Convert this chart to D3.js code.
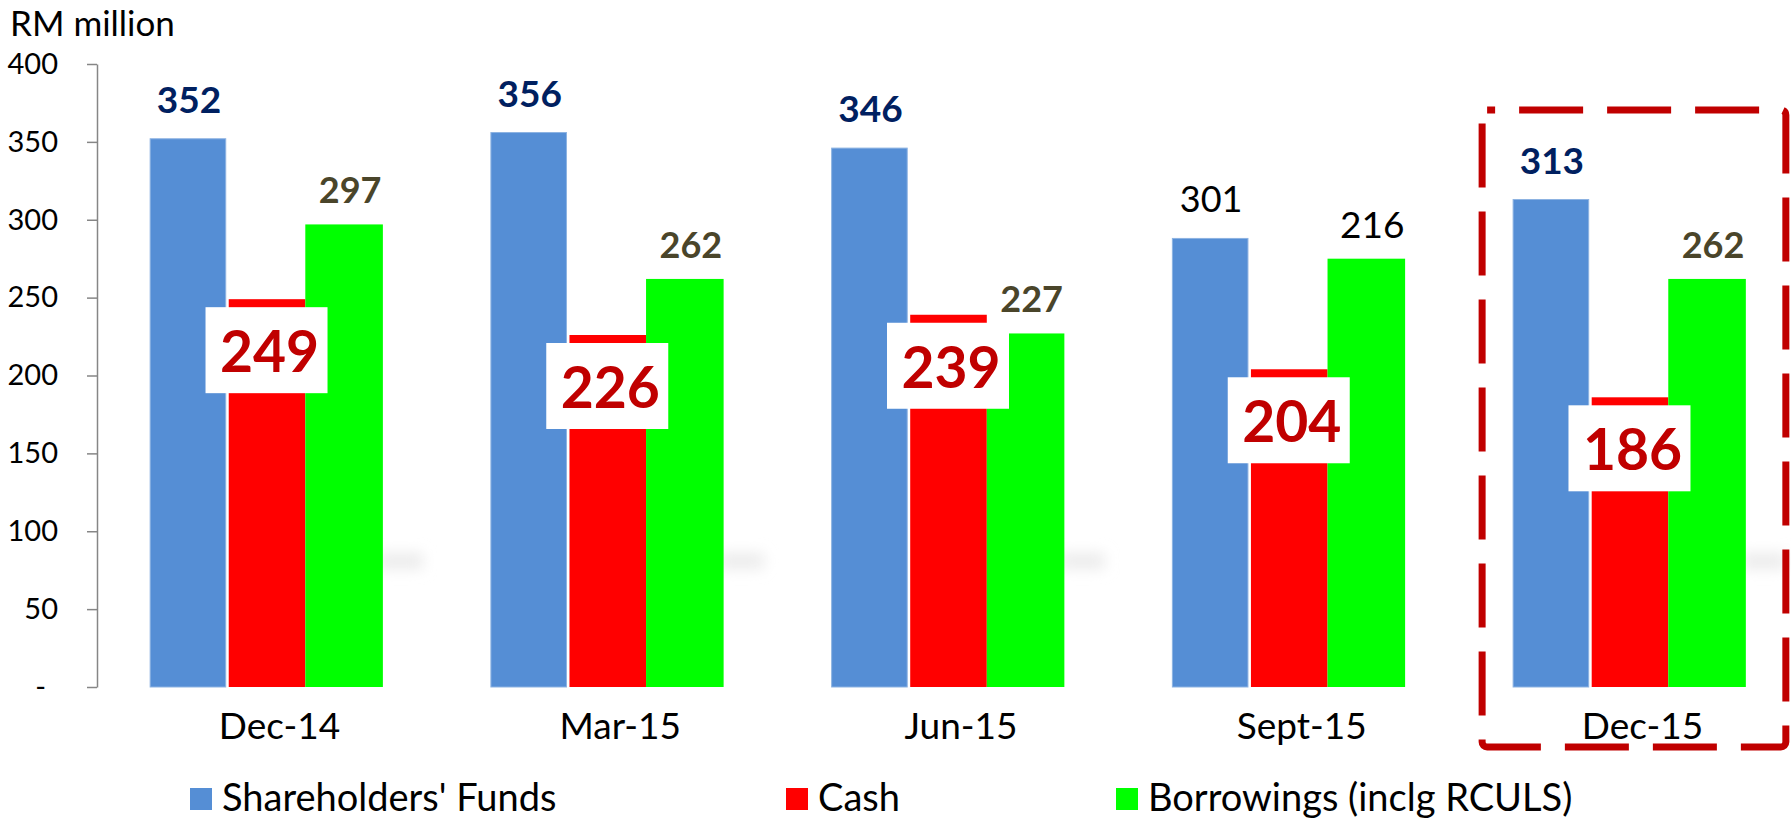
<!DOCTYPE html>
<html>
<head>
<meta charset="utf-8">
<script src="https://cdn.jsdelivr.net/npm/d3@7"></script>
<style>
  html, body { margin: 0; padding: 0; background: #fff; }
  svg { display: block; font-family: Lato, "Open Sans", sans-serif; }
</style>
</head>
<body>
<svg id="chart" width="1791" height="821"></svg>
<script>
// periods on the x axis
const periods = ['Dec-14', 'Mar-15', 'Jun-15', 'Sept-15', 'Dec-15'];

// bar heights as drawn (RM million)
const funds = [352, 356, 346, 288, 313];
const cash = [249, 226, 239, 204, 186];
const borrowings = [297, 262, 227, 275, 262];

// value labels as printed on the slide
const fundsLabels = ['352', '356', '346', '301', '313'];
const cashLabels = ['249', '226', '239', '204', '186'];
const borrowingsLabels = ['297', '262', '227', '216', '262'];

const yTicks = [0, 50, 100, 150, 200, 250, 300, 350, 400];
const seriesNames = ["Shareholders' Funds", 'Cash', 'Borrowings (inclg RCULS)'];
const highlight = 'Dec-15';
const plainLabelPeriod = 'Sept-15';

const colors = {
    funds: '#558ED5',
    cash: '#FF0000',
    borrowings: '#00FF00'
};

const svg = d3.select('#chart');

const x0 = d3.scaleBand()
    .domain(periods)
    .range([97, 1799])
    .paddingInner(0.317)
    .paddingOuter(0.156);

const keys = ['funds', 'cash', 'borrowings'];
const x1 = d3.scaleBand()
    .domain(keys)
    .range([0, x0.bandwidth()]);

const y = d3.scaleLinear()
    .domain([0, 400])
    .range([687, 64]);

// build rows from the arrays
const rows = periods.map((p, i) => ({
    period: p,
    funds: funds[i], cash: cash[i], borrowings: borrowings[i],
    fundsLabel: fundsLabels[i], cashLabel: cashLabels[i], borrowingsLabel: borrowingsLabels[i]
}));

// soft grey shadow blobs beside the green bars
const defs = svg.append('defs');
defs.append('filter').attr('id', 'blur')
    .attr('x', '-50%').attr('y', '-100%').attr('width', '200%').attr('height', '300%')
    .append('feGaussianBlur').attr('stdDeviation', 7);

svg.append('g').selectAll('rect')
    .data(rows.filter(d => d.period !== plainLabelPeriod))
    .enter().append('rect')
    .attr('x', d => x0(d.period) + x0.bandwidth() - 4)
    .attr('y', y(86))
    .attr('width', 44)
    .attr('height', 16)
    .attr('fill', '#ebebeb')
    .attr('filter', 'url(#blur)');

// y axis
const yAxis = svg.append('g')
    .attr('transform', 'translate(97,0)')
    .call(d3.axisLeft(y)
        .tickValues(yTicks)
        .tickSize(10)
        .tickSizeOuter(0)
        .tickPadding(29)
        .tickFormat(d => d === 0 ? '-' : d));

yAxis.select('.domain').attr('stroke', '#868686').attr('stroke-width', 1.5);
yAxis.selectAll('.tick line').attr('stroke', '#868686').attr('stroke-width', 1.5);
yAxis.selectAll('.tick text')
    .attr('font-family', 'Lato, sans-serif')
    .attr('font-size', 29)
    .attr('fill', '#000')
    .attr('dx', d => d === 0 ? -12 : 0);

svg.append('text')
    .attr('x', 10)
    .attr('y', 36)
    .attr('font-size', 35)
    .attr('fill', '#000')
    .text('RM million');

// bars
const groups = svg.append('g').selectAll('g')
    .data(rows)
    .enter().append('g')
    .attr('transform', d => `translate(${x0(d.period)},0)`);

groups.selectAll('rect')
    .data(d => keys.map(k => ({ key: k, value: d[k] })))
    .enter().append('rect')
    .attr('x', d => x1(d.key) + (d.key === 'cash' ? 1 : 0))
    .attr('y', d => y(d.value))
    .attr('width', d => x1.bandwidth() - (d.key === 'cash' ? 1 : 0) - (d.key === 'funds' ? 2 : 0))
    .attr('height', d => y(0) - y(d.value))
    .attr('fill', d => colors[d.key])
    .attr('stroke', d => d.key === 'funds' ? '#8DB3E2' : 'none')
    .attr('stroke-width', 1);

// blue value labels
groups.append('text')
    .attr('x', x1('funds') + x1.bandwidth() / 2)
    .attr('y', d => y(d.funds) - 26)
    .attr('text-anchor', 'middle')
    .attr('font-size', d => d.period === plainLabelPeriod ? 36 : 37)
    .attr('font-weight', d => d.period === plainLabelPeriod ? 400 : 700)
    .attr('fill', d => d.period === plainLabelPeriod ? '#000' : '#002060')
    .text(d => d.fundsLabel);

// green value labels
groups.append('text')
    .attr('x', x1('borrowings') + x1.bandwidth() / 2 + 6)
    .attr('y', d => y(d.borrowings) - 21)
    .attr('text-anchor', 'middle')
    .attr('font-size', d => d.period === plainLabelPeriod ? 37 : 36)
    .attr('font-weight', d => d.period === plainLabelPeriod ? 400 : 700)
    .attr('fill', d => d.period === plainLabelPeriod ? '#000' : '#4A452A')
    .text(d => d.borrowingsLabel);

// cash labels in white boxes
const boxW = 122, boxH = 86;
const cashBox = groups.append('g')
    .attr('transform', d => `translate(${x1('cash') + x1.bandwidth() / 2},${y(d.cash) + 8})`);

cashBox.append('rect')
    .attr('x', -boxW / 2)
    .attr('y', 0)
    .attr('width', boxW)
    .attr('height', boxH)
    .attr('fill', '#fff');

cashBox.append('text')
    .attr('x', 3)
    .attr('y', 65)
    .attr('text-anchor', 'middle')
    .attr('font-size', 57)
    .attr('font-weight', 700)
    .attr('fill', '#C00000')
    .text(d => d.cashLabel);

// x labels
svg.append('g').selectAll('text')
    .data(periods)
    .enter().append('text')
    .attr('x', d => x0(d) + x0.bandwidth() / 2 + 13)
    .attr('y', 739)
    .attr('text-anchor', 'middle')
    .attr('font-size', 37)
    .attr('fill', '#000')
    .text(d => d);

// dashed highlight box around the latest quarter
const hx = x0(highlight);
svg.append('rect')
    .attr('x', hx - 31)
    .attr('y', 110)
    .attr('width', x0.bandwidth() + 71)
    .attr('height', 637)
    .attr('rx', 5)
    .attr('fill', 'none')
    .attr('stroke', '#C00000')
    .attr('stroke-width', 7)
    .attr('stroke-dasharray', '64 24')
    .attr('stroke-dashoffset', 56);

// legend
const legendX = [190, 786, 1116];
const legend = svg.append('g').selectAll('g')
    .data(keys)
    .enter().append('g')
    .attr('transform', (d, i) => `translate(${legendX[i]},788)`);

legend.append('rect')
    .attr('width', 22)
    .attr('height', 22)
    .attr('fill', d => colors[d]);

legend.append('text')
    .attr('x', 32)
    .attr('y', 23)
    .attr('font-size', 38)
    .attr('fill', '#000')
    .text((d, i) => seriesNames[i]);
</script>
</body>
</html>
